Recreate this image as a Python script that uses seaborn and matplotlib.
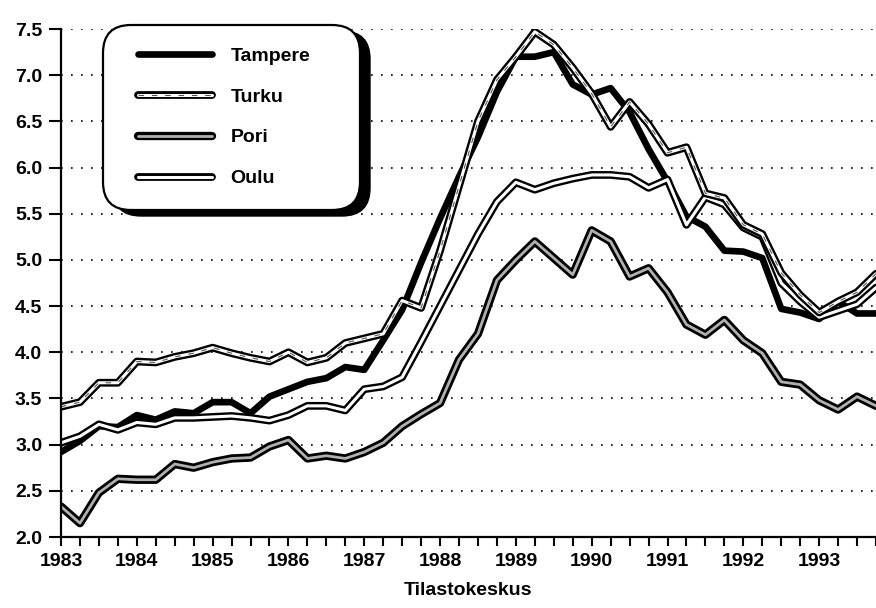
import numpy as np
import pandas as pd
import seaborn as sns
import matplotlib.pyplot as plt
import matplotlib.patheffects as pe
from matplotlib.patches import FancyBboxPatch
from matplotlib.lines import Line2D
from matplotlib.transforms import IdentityTransform

# quarterly observations 1983Q1 .. 1993Q4
quarters = 1983 + np.arange(44) / 4

tampere = [2.92, 3.04, 3.20, 3.19, 3.32, 3.27, 3.36, 3.34, 3.46, 3.46, 3.34, 3.52,
           3.60, 3.68, 3.72, 3.84, 3.81, 4.13, 4.46, 4.97, 5.45, 5.90, 6.33, 6.82,
           7.20, 7.20, 7.25, 6.90, 6.79, 6.86, 6.60, 6.20, 5.85, 5.47, 5.36, 5.10,
           5.09, 5.02, 4.47, 4.43, 4.36, 4.55, 4.42, 4.42]
turku = [3.41, 3.46, 3.67, 3.67, 3.90, 3.89, 3.95, 3.99, 4.05, 3.99, 3.94, 3.90,
         4.00, 3.89, 3.94, 4.10, 4.15, 4.20, 4.56, 4.48, 5.10, 5.80, 6.50, 6.95,
         7.20, 7.47, 7.33, 7.08, 6.80, 6.44, 6.71, 6.47, 6.16, 6.22, 5.72, 5.67,
         5.38, 5.28, 4.86, 4.62, 4.43, 4.55, 4.65, 4.85]
pori = [2.33, 2.15, 2.48, 2.63, 2.62, 2.62, 2.79, 2.75, 2.81, 2.85, 2.86, 2.98,
        3.05, 2.85, 2.88, 2.85, 2.92, 3.02, 3.20, 3.33, 3.45, 3.92, 4.20, 4.78,
        5.00, 5.20, 5.02, 4.84, 5.32, 5.20, 4.82, 4.91, 4.65, 4.30, 4.19, 4.35,
        4.13, 3.99, 3.68, 3.65, 3.48, 3.38, 3.52, 3.42]
oulu = [3.02, 3.09, 3.22, 3.16, 3.24, 3.22, 3.29, 3.29, 3.30, 3.31, 3.29, 3.26,
        3.32, 3.42, 3.42, 3.37, 3.60, 3.63, 3.73, 4.11, 4.50, 4.89, 5.28, 5.63,
        5.84, 5.76, 5.83, 5.88, 5.92, 5.92, 5.90, 5.78, 5.87, 5.38, 5.68, 5.60,
        5.35, 5.25, 4.75, 4.55, 4.38, 4.45, 4.52, 4.70]

names = ['Tampere', 'Turku', 'Pori', 'Oulu']
years = list(range(1983, 1994))
yticks = [2.0, 2.5, 3.0, 3.5, 4.0, 4.5, 5.0, 5.5, 6.0, 6.5, 7.0, 7.5]

sns.set_theme(style="white", rc={"axes.edgecolor": "black", "text.color": "black",
                                 "xtick.color": "black", "ytick.color": "black",
                                 "axes.labelcolor": "black"})
plt.rcParams['font.family'] = ['Liberation Sans', 'DejaVu Sans']
plt.rcParams['font.weight'] = 'bold'
plt.rcParams['axes.labelweight'] = 'bold'
plt.rcParams['font.size'] = 14

fig = plt.figure(figsize=(8.76, 6.08), dpi=100)
ax = fig.add_axes([61 / 876, 71 / 608, 815 / 876, 508 / 608])


def outline(w):
    return [pe.Stroke(linewidth=w, foreground='black'), pe.Normal()]


sns.lineplot(x=quarters, y=tampere, ax=ax, color='black', lw=4.8, zorder=2)
sns.lineplot(x=quarters, y=pori, ax=ax, color='#b0b0b0', lw=2.0,
             path_effects=outline(6.0), zorder=2)
sns.lineplot(x=quarters, y=oulu, ax=ax, color='white', lw=2.2,
             path_effects=outline(5.6), zorder=2)
sns.lineplot(x=quarters, y=turku, ax=ax, color='white', lw=2.2,
             path_effects=outline(5.6), zorder=2)
ax.plot(quarters, turku, color='#555555', lw=0.8, dashes=(5, 7), zorder=2)

ax.set_xlim(1983, 1983 + 815 / 76.6)
ax.set_ylim(2.0, 7.5)
ax.set_xticks(years)
ax.set_xticks(quarters, minor=True)
ax.set_yticks(yticks)
ax.set_yticklabels([f'{v:.1f}' for v in yticks])
ax.tick_params(axis='x', which='both', direction='out', length=6.5, width=1.5,
               bottom=True, pad=5, labelsize=14)
ax.tick_params(axis='y', direction='out', length=8.5, width=1.5, left=True,
               pad=5, labelsize=14)
for s in ['top', 'right']:
    ax.spines[s].set_visible(False)
for s in ['left', 'bottom']:
    ax.spines[s].set_linewidth(1.6)
ax.grid(axis='y', linestyle=(0, (1, 5)), color='black', lw=1.2)
ax.grid(axis='x', visible=False)
ax.set_axisbelow(True)
ax.set_xlabel('Tilastokeskus', fontsize=14, fontweight='bold', labelpad=9)

# legend box with drop shadow
shadow = FancyBboxPatch((113, 392), 257, 185, boxstyle='round,pad=0,rounding_size=28',
                        transform=IdentityTransform(), facecolor='black',
                        edgecolor='black', clip_on=False, zorder=4)
box = FancyBboxPatch((103, 398), 257, 185, boxstyle='round,pad=0,rounding_size=28',
                     transform=IdentityTransform(), facecolor='white',
                     edgecolor='black', lw=1.6, clip_on=False, zorder=4.1)
ax.add_patch(shadow)
ax.add_patch(box)

h_tampere = Line2D([], [], color='black', lw=4.8)
h_turku = (Line2D([], [], color='white', lw=2.2, path_effects=outline(5.6)),
           Line2D([], [], color='#555555', lw=0.8, dashes=(5, 7)))
h_pori = Line2D([], [], color='#b0b0b0', lw=2.0, path_effects=outline(6.0))
h_oulu = Line2D([], [], color='white', lw=2.2, path_effects=outline(5.6))
leg = ax.legend([h_tampere, h_turku, h_pori, h_oulu], names, loc='upper left',
                bbox_to_anchor=(138 / 876, 1 - 47 / 608), bbox_transform=fig.transFigure,
                frameon=False, borderpad=0, borderaxespad=0, handlelength=3.8,
                handletextpad=0.95, labelspacing=1.2, fontsize=14)
leg.set_zorder(5)

fig.savefig('out.png', dpi=100)
